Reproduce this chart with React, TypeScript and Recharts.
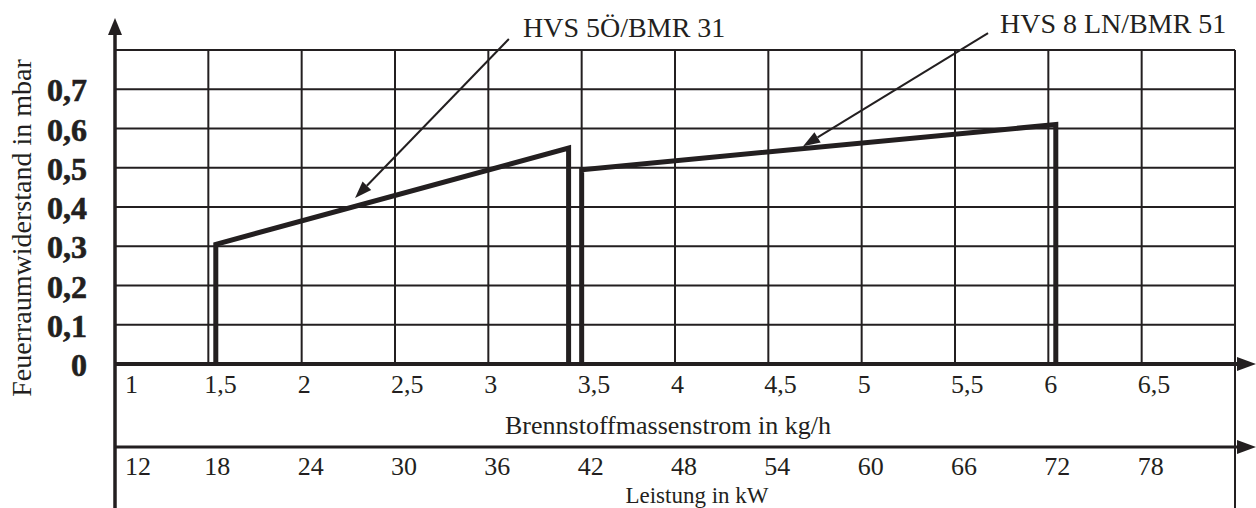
import {
  ComposedChart,
  Line,
  XAxis,
  YAxis,
  CartesianGrid,
  ReferenceLine,
  ReferenceDot,
} from "recharts";

const INK = "#231f20";
const SERIF = '"Liberation Serif", "Times New Roman", serif';

// layout
const W = 1256;
const H = 508;
const PLOT_LEFT = 115;
const PLOT_TOP = 50;
const RIGHT_GAP = 21;
const KG_AXIS_H = 83;
const KW_AXIS_H = 61;
const PLOT_RIGHT = W - RIGHT_GAP;
const PLOT_BOTTOM = H - KG_AXIS_H - KW_AXIS_H;
const KW_AXIS_Y = PLOT_BOTTOM + KG_AXIS_H;

// axes
const kgTicks = [1, 1.5, 2, 2.5, 3, 3.5, 4, 4.5, 5, 5.5, 6, 6.5, 7];
const kwTicks = [12, 18, 24, 30, 36, 42, 48, 54, 60, 66, 72, 78];
const mbarTicks = [0, 0.1, 0.2, 0.3, 0.4, 0.5, 0.6, 0.7, 0.8];

// series (kg/h, mbar)
const hvs5Flow = [1.54, 1.54, 3.43, 3.43];
const hvs5Mbar = [0, 0.305, 0.55, 0];
const hvs8Flow = [3.5, 3.5, 6.04, 6.04];
const hvs8Mbar = [0, 0.495, 0.61, 0];

// callouts: label anchor, arrow start, arrow tip (kg/h, mbar)
const hvs5Label = { text: "HVS 5Ö/BMR 31", x: 3.186, y: 0.833 };
const hvs5Arrow = [{ x: 3.11, y: 0.828 }, { x: 2.286, y: 0.423 }];
const hvs8Label = { text: "HVS 8 LN/BMR 51", x: 5.741, y: 0.843 };
const hvs8Arrow = [{ x: 5.677, y: 0.843 }, { x: 4.686, y: 0.555 }];

const toRows = (xs: number[], ys: number[]) =>
  xs.map((x, i) => ({ x, p: ys[i] }));

const fmt = (v: number) => String(v).replace(".", ",");

function KgTick(props: any) {
  const { x, y, payload } = props;
  if (payload.value === 7) return <g />;
  const dx = payload.value === 1 ? 10 : -4;
  return (
    <text x={x + dx} y={y + 29} fill={INK} fontFamily={SERIF} fontSize={26} textAnchor="start">
      {fmt(payload.value)}
    </text>
  );
}

function KwTick(props: any) {
  const { x, y, payload } = props;
  const dx = payload.value === 12 ? 10 : -4;
  return (
    <text x={x + dx} y={y + 28} fill={INK} fontFamily={SERIF} fontSize={26} textAnchor="start">
      {payload.value}
    </text>
  );
}

function MbarTick(props: any) {
  const { x, y, payload } = props;
  if (payload.value >= 0.8) return <g />;
  return (
    <text
      x={x - 28}
      y={y + 12}
      fill={INK}
      stroke={INK}
      strokeWidth={0.6}
      fontFamily={SERIF}
      fontWeight="bold"
      fontSize={32}
      textAnchor="end"
    >
      {fmt(Math.round(payload.value * 10) / 10)}
    </text>
  );
}

function ArrowShape(props: any) {
  const { x1, y1, x2, y2 } = props;
  const a = Math.atan2(y2 - y1, x2 - x1);
  const len = 17;
  const half = 6;
  const bx = x2 - len * Math.cos(a);
  const by = y2 - len * Math.sin(a);
  const px = -Math.sin(a) * half;
  const py = Math.cos(a) * half;
  return (
    <g>
      <line x1={x1} y1={y1} x2={bx} y2={by} stroke={INK} strokeWidth={2} />
      <polygon points={`${x2},${y2} ${bx + px},${by + py} ${bx - px},${by - py}`} fill={INK} />
    </g>
  );
}

const calloutText = (text: string) => (p: any) =>
  (
    <text x={p.cx} y={p.cy} fill={INK} fontFamily={SERIF} fontSize={28} textAnchor="start">
      {text}
    </text>
  );

export default function App() {
  return (
    <div style={{ position: "absolute", left: 0, top: 0, width: W, height: H, background: "#fff" }}>
      <ComposedChart
        width={W}
        height={H}
        margin={{ top: PLOT_TOP, right: RIGHT_GAP, left: 0, bottom: 0 }}
      >
        <CartesianGrid xAxisId="kg" stroke={INK} strokeWidth={2} />
        <XAxis
          xAxisId="kg"
          type="number"
          dataKey="x"
          domain={[1, 7]}
          allowDataOverflow
          ticks={kgTicks}
          height={KG_AXIS_H}
          axisLine={false}
          tickLine={false}
          tickSize={0}
          tickMargin={0}
          tick={<KgTick />}
          interval={0}
          label={(p: any) => {
            const vb = p?.viewBox ?? { x: PLOT_LEFT, y: PLOT_BOTTOM };
            return (
              <text x={vb.x + 553} y={vb.y + 70} fill={INK} fontFamily={SERIF} fontSize={26} textAnchor="middle">
                Brennstoffmassenstrom in kg/h
              </text>
            );
          }}
        />
        <XAxis
          xAxisId="kw"
          type="number"
          dataKey="x"
          domain={[12, 84]}
          allowDataOverflow
          ticks={kwTicks}
          height={KW_AXIS_H}
          axisLine={false}
          tickLine={false}
          tickSize={0}
          tickMargin={0}
          tick={<KwTick />}
          interval={0}
          label={(p: any) => {
            const vb = p?.viewBox ?? { x: PLOT_LEFT, y: KW_AXIS_Y };
            return (
              <text x={vb.x + 582} y={vb.y + 56} fill={INK} fontFamily={SERIF} fontSize={23} textAnchor="middle">
                Leistung in kW
              </text>
            );
          }}
        />
        <YAxis
          type="number"
          domain={[0, 0.8]}
          allowDataOverflow
          ticks={mbarTicks}
          width={PLOT_LEFT}
          axisLine={false}
          tickLine={false}
          tickSize={0}
          tickMargin={0}
          tick={<MbarTick />}
          interval={0}
          label={(p: any) => {
            const vb = p?.viewBox ?? { y: PLOT_TOP, height: PLOT_BOTTOM - PLOT_TOP };
            const cy = vb.y + vb.height / 2 + 21;
            return (
              <text
                x={31}
                y={cy}
                transform={`rotate(-90, 31, ${cy})`}
                fill={INK}
                fontFamily={SERIF}
                fontSize={28}
                textAnchor="middle"
              >
                Feuerraumwiderstand in mbar
              </text>
            );
          }}
        />
        <Line
          xAxisId="kg"
          data={toRows(hvs5Flow, hvs5Mbar)}
          dataKey="p"
          type="linear"
          stroke={INK}
          strokeWidth={5}
          strokeLinejoin="miter"
          dot={false}
          activeDot={false}
          isAnimationActive={false}
        />
        <Line
          xAxisId="kg"
          data={toRows(hvs8Flow, hvs8Mbar)}
          dataKey="p"
          type="linear"
          stroke={INK}
          strokeWidth={5}
          strokeLinejoin="miter"
          dot={false}
          activeDot={false}
          isAnimationActive={false}
        />
        <ReferenceLine xAxisId="kg" segment={hvs5Arrow} ifOverflow="visible" shape={<ArrowShape />} />
        <ReferenceLine xAxisId="kg" segment={hvs8Arrow} ifOverflow="visible" shape={<ArrowShape />} />
        <ReferenceDot
          xAxisId="kg"
          x={hvs5Label.x}
          y={hvs5Label.y}
          ifOverflow="visible"
          shape={calloutText(hvs5Label.text)}
        />
        <ReferenceDot
          xAxisId="kg"
          x={hvs8Label.x}
          y={hvs8Label.y}
          ifOverflow="visible"
          shape={calloutText(hvs8Label.text)}
        />
      </ComposedChart>
      {/* frame: axis lines with arrow heads, extended borders */}
      <svg
        width={W}
        height={H}
        style={{ position: "absolute", left: 0, top: 0, pointerEvents: "none" }}
      >
        <line x1={PLOT_LEFT} y1={32} x2={PLOT_LEFT} y2={H} stroke={INK} strokeWidth={3.5} />
        <polygon points={`${PLOT_LEFT},18 ${PLOT_LEFT - 7},35 ${PLOT_LEFT + 7},35`} fill={INK} />
        <line x1={PLOT_RIGHT} y1={PLOT_BOTTOM} x2={PLOT_RIGHT} y2={H} stroke={INK} strokeWidth={2} />
        <line x1={PLOT_LEFT} y1={PLOT_BOTTOM} x2={W - 18} y2={PLOT_BOTTOM} stroke={INK} strokeWidth={4} />
        <polygon
          points={`${W},${PLOT_BOTTOM} ${W - 19},${PLOT_BOTTOM - 7} ${W - 19},${PLOT_BOTTOM + 7}`}
          fill={INK}
        />
        <line x1={PLOT_LEFT} y1={KW_AXIS_Y} x2={W - 18} y2={KW_AXIS_Y} stroke={INK} strokeWidth={3} />
        <polygon
          points={`${W},${KW_AXIS_Y} ${W - 19},${KW_AXIS_Y - 7} ${W - 19},${KW_AXIS_Y + 7}`}
          fill={INK}
        />
      </svg>
    </div>
  );
}
